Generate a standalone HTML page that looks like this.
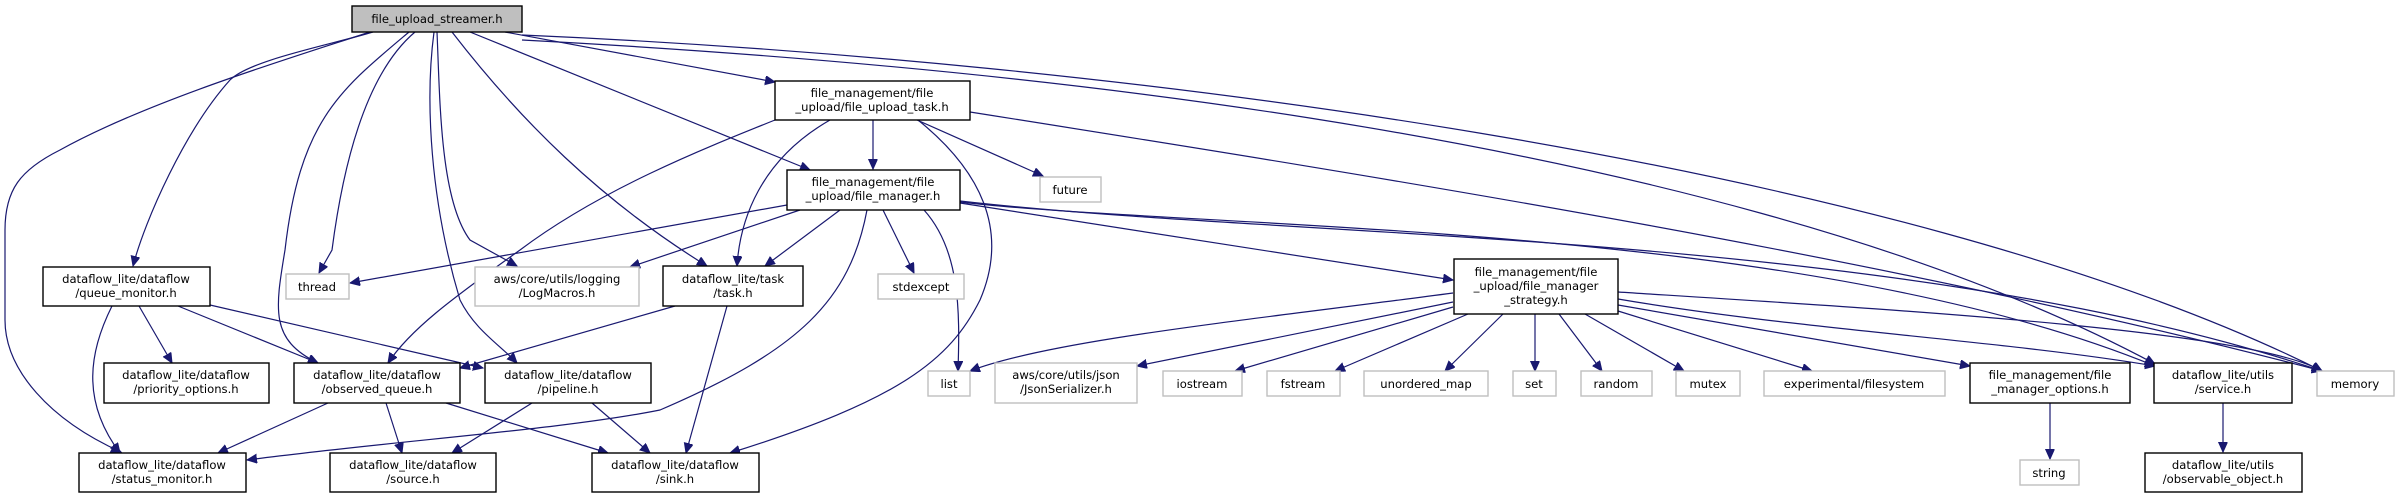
<!DOCTYPE html>
<html><head><meta charset="utf-8"><style>
html,body{margin:0;padding:0;background:#fff;}
svg{display:block;}
text{font-family:"DejaVu Sans","Liberation Sans",sans-serif;font-size:11.6px;fill:#000;text-anchor:middle;}
.n{fill:#fff;stroke:#000;stroke-width:1.4;}
.g{fill:#fff;stroke:#bfbfbf;stroke-width:1.4;}
.e{fill:none;stroke:#191970;stroke-width:1.2;}
</style></head><body>
<svg width="2399" height="499" viewBox="0 0 2399 499" xmlns="http://www.w3.org/2000/svg">
<defs><marker id="a" markerUnits="userSpaceOnUse" markerWidth="12" markerHeight="10" refX="10" refY="4.5" orient="auto"><path d="M0,0 L10,4.5 L0,9z" fill="#191970" stroke="#191970"/></marker></defs>
<g marker-end="url(#a)">
<!-- root edges -->
<path class="e" d="M373,32 C330,45 250,60 230,80 C185,130 145,220 133,266"/>
<path class="e" d="M370,32 C300,55 150,100 60,150 C20,170 5,190 5,230 L5,320 C5,370 50,420 121,452"/>
<path class="e" d="M415,32 C370,70 345,150 332,250 L319,273"/>
<path class="e" d="M409,32 C340,90 300,120 285,250 C275,310 270,340 318,363"/>
<path class="e" d="M437,32 C440,100 440,200 470,240 L517,266"/>
<path class="e" d="M434,32 C425,100 430,200 460,300 C475,330 500,345 517,363"/>
<path class="e" d="M452,32 C520,120 600,200 707,266"/>
<path class="e" d="M470,32 L810,170"/>
<path class="e" d="M505,32 L775,82"/>
<path class="e" d="M522,40 C900,60 1700,120 2155,364"/>
<path class="e" d="M522,35 C1100,60 1900,160 2322,371"/>
<!-- file_upload_task -->
<path class="e" d="M775,120 C700,150 600,190 520,250 C450,300 410,330 388,363"/>
<path class="e" d="M873,120 L873,169"/>
<path class="e" d="M830,120 C760,160 740,220 737,266"/>
<path class="e" d="M917,120 L1043,176"/>
<path class="e" d="M918,120 C980,170 1010,230 980,300 C950,360 900,400 730,453"/>
<path class="e" d="M970,112 C1400,180 1900,260 2322,371"/>
<!-- file_manager -->
<path class="e" d="M787,205 L350,283"/>
<path class="e" d="M800,210 L630,267"/>
<path class="e" d="M840,210 L765,266"/>
<path class="e" d="M867,210 C850,300 800,350 660,410 C560,430 400,440 247,460"/>
<path class="e" d="M883,210 L914,273"/>
<path class="e" d="M924,210 C960,250 960,310 958,371"/>
<path class="e" d="M960,203 L1453,280"/>
<path class="e" d="M960,202 C1200,230 1800,220 2155,366"/>
<path class="e" d="M960,201 C1300,240 1900,230 2322,371"/>
<!-- queue_monitor -->
<path class="e" d="M112,306 C90,350 80,400 120,453"/>
<path class="e" d="M139,306 L172,363"/>
<path class="e" d="M178,306 L318,363"/>
<path class="e" d="M210,305 L483,368"/>
<!-- task.h -->
<path class="e" d="M675,306 L460,368"/>
<path class="e" d="M727,306 L686,453"/>
<!-- observed_queue -->
<path class="e" d="M328,403 L218,453"/>
<path class="e" d="M386,403 L402,453"/>
<path class="e" d="M446,403 L608,453"/>
<!-- pipeline -->
<path class="e" d="M532,403 L452,453"/>
<path class="e" d="M592,403 L650,453"/>
<!-- strategy -->
<path class="e" d="M1453,293 C1250,320 1050,340 970,371"/>
<path class="e" d="M1453,302 L1137,366"/>
<path class="e" d="M1453,307 L1235,371"/>
<path class="e" d="M1468,314 L1335,371"/>
<path class="e" d="M1503,314 L1445,371"/>
<path class="e" d="M1535,314 L1535,371"/>
<path class="e" d="M1559,314 L1602,371"/>
<path class="e" d="M1585,314 L1684,371"/>
<path class="e" d="M1618,311 L1812,371"/>
<path class="e" d="M1618,305 L1970,366"/>
<path class="e" d="M1618,299 C1800,330 2000,340 2155,366"/>
<path class="e" d="M1618,292 C1900,310 2250,330 2322,371"/>
<path class="e" d="M2050,403 L2050,459"/>
<path class="e" d="M2223,403 L2223,452"/>
</g>
<!-- nodes -->
<rect x="352" y="6" width="170" height="26" fill="#bfbfbf" stroke="#000" stroke-width="1.4"/><text x="437" y="23">file_upload_streamer.h</text>
<rect class="n" x="775" y="81" width="195" height="39"/><text x="872" y="97">file_management/file</text><text x="872" y="111">_upload/file_upload_task.h</text>
<rect class="n" x="787" y="170" width="173" height="40"/><text x="873" y="186">file_management/file</text><text x="873" y="200">_upload/file_manager.h</text>
<rect class="n" x="43" y="267" width="167" height="39"/><text x="126" y="283">dataflow_lite/dataflow</text><text x="126" y="297">/queue_monitor.h</text>
<rect class="g" x="286" y="274" width="63" height="25"/><text x="317" y="291">thread</text>
<rect class="g" x="475" y="267" width="164" height="39"/><text x="557" y="283">aws/core/utils/logging</text><text x="557" y="297">/LogMacros.h</text>
<rect class="n" x="663" y="266" width="140" height="40"/><text x="733" y="283">dataflow_lite/task</text><text x="733" y="297">/task.h</text>
<rect class="g" x="878" y="274" width="86" height="25"/><text x="921" y="291">stdexcept</text>
<rect class="g" x="1040" y="177" width="61" height="25"/><text x="1070" y="194">future</text>
<rect class="n" x="1454" y="259" width="164" height="55"/><text x="1536" y="276">file_management/file</text><text x="1536" y="290">_upload/file_manager</text><text x="1536" y="304">_strategy.h</text>
<rect class="n" x="104" y="363" width="165" height="40"/><text x="186" y="379">dataflow_lite/dataflow</text><text x="186" y="393">/priority_options.h</text>
<rect class="n" x="294" y="363" width="166" height="40"/><text x="377" y="379">dataflow_lite/dataflow</text><text x="377" y="393">/observed_queue.h</text>
<rect class="n" x="485" y="363" width="166" height="40"/><text x="568" y="379">dataflow_lite/dataflow</text><text x="568" y="393">/pipeline.h</text>
<rect class="n" x="79" y="453" width="167" height="39"/><text x="162" y="469">dataflow_lite/dataflow</text><text x="162" y="483">/status_monitor.h</text>
<rect class="n" x="330" y="453" width="166" height="39"/><text x="413" y="469">dataflow_lite/dataflow</text><text x="413" y="483">/source.h</text>
<rect class="n" x="592" y="453" width="167" height="39"/><text x="675" y="469">dataflow_lite/dataflow</text><text x="675" y="483">/sink.h</text>
<rect class="g" x="928" y="371" width="42" height="25"/><text x="949" y="388">list</text>
<rect class="g" x="995" y="363" width="142" height="40"/><text x="1066" y="379">aws/core/utils/json</text><text x="1066" y="393">/JsonSerializer.h</text>
<rect class="g" x="1163" y="371" width="79" height="25"/><text x="1202" y="388">iostream</text>
<rect class="g" x="1267" y="371" width="73" height="25"/><text x="1303" y="388">fstream</text>
<rect class="g" x="1364" y="371" width="124" height="25"/><text x="1426" y="388">unordered_map</text>
<rect class="g" x="1513" y="371" width="43" height="25"/><text x="1534" y="388">set</text>
<rect class="g" x="1581" y="371" width="71" height="25"/><text x="1616" y="388">random</text>
<rect class="g" x="1676" y="371" width="64" height="25"/><text x="1708" y="388">mutex</text>
<rect class="g" x="1764" y="371" width="181" height="25"/><text x="1854" y="388">experimental/filesystem</text>
<rect class="n" x="1970" y="363" width="160" height="40"/><text x="2050" y="379">file_management/file</text><text x="2050" y="393">_manager_options.h</text>
<rect class="n" x="2154" y="363" width="138" height="40"/><text x="2223" y="379">dataflow_lite/utils</text><text x="2223" y="393">/service.h</text>
<rect class="g" x="2317" y="371" width="77" height="25"/><text x="2355" y="388">memory</text>
<rect class="g" x="2020" y="460" width="59" height="25"/><text x="2049" y="477">string</text>
<rect class="n" x="2145" y="453" width="157" height="39"/><text x="2223" y="469">dataflow_lite/utils</text><text x="2223" y="483">/observable_object.h</text>
</svg>
</body></html>
